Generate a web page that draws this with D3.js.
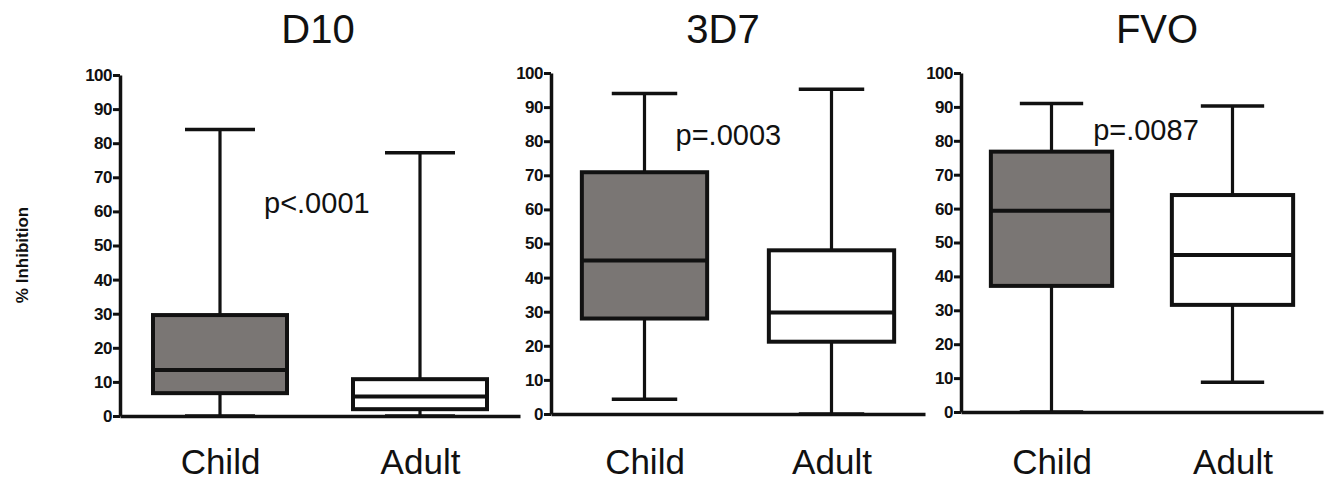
<!DOCTYPE html>
<html>
<head>
<meta charset="utf-8">
<script src="https://cdn.jsdelivr.net/npm/d3@7"></script>
<style>
  body { margin: 0; background: #fff; }
  svg { display: block; }
</style>
</head>
<body>
<div id="chart"></div>
<script>
// data
const panelNames = ["D10", "3D7", "FVO"];
const groups = ["Child", "Adult"];
const yTicks = [0, 10, 20, 30, 40, 50, 60, 70, 80, 90, 100];

// one [child, adult] pair per panel
const whiskerLow = [[0, 0], [4.3, 0], [0, 8.8]];
const q1 = [[6.7, 2], [28, 21.2], [37.2, 31.6]];
const median = [[13.5, 5.7], [45, 29.8], [59.4, 46.3]];
const q3 = [[29.6, 10.8], [70.9, 48], [76.8, 64]];
const whiskerHigh = [[84, 77.2], [94, 95.2], [91, 90.3]];
const pLabels = ["p<.0001", "p=.0003", "p=.0087"];
const pLabelY = [59.5, 78.9, 80.2]; // value at which the p label sits

// layout (pixels)
const width = 1324, height = 482;
const layout = [
  { x0: 120, x1: 520, yBottom: 416, yTop: 75, titleX: 318, pDx: 0.22 },
  { x0: 551, x1: 925, yBottom: 414, yTop: 73, titleX: 723, pDx: 0.166 },
  { x0: 961, x1: 1323, yBottom: 412, yTop: 73, titleX: 1157, pDx: 0.23 }
];
const fills = ["#7a7674", "#ffffff"];
const ink = "#111";
const font = "'Liberation Sans', Arial, sans-serif";

const svg = d3.select("#chart").append("svg")
  .attr("width", width)
  .attr("height", height);

// shared y axis title
svg.append("text")
  .attr("transform", "translate(28, 255) rotate(-90)")
  .attr("text-anchor", "middle")
  .style("font-family", font)
  .style("font-weight", "bold")
  .style("font-size", "17px")
  .style("fill", ink)
  .text("% Inhibition");

panelNames.forEach((name, p) => {
  const L = layout[p];
  const x = d3.scalePoint().domain(groups).range([L.x0, L.x1]).padding(0.5);
  const y = d3.scaleLinear().domain([0, 100]).range([L.yBottom, L.yTop]);
  const step = x.step();
  const boxW = step * 0.67;
  const capW = step * 0.35;

  const g = svg.append("g");

  // title
  g.append("text")
    .attr("x", L.titleX)
    .attr("y", 43)
    .attr("text-anchor", "middle")
    .style("font-family", font)
    .style("font-size", "40px")
    .style("fill", ink)
    .text(name);

  // boxes
  const stats = groups.map((grp, i) => ({
    grp, i,
    lo: whiskerLow[p][i], q1: q1[p][i], med: median[p][i],
    q3: q3[p][i], hi: whiskerHigh[p][i]
  }));

  const box = g.selectAll("g.box")
    .data(stats)
    .join("g")
    .attr("class", "box");

  // whisker stems
  box.append("line")
    .attr("x1", d => x(d.grp)).attr("x2", d => x(d.grp))
    .attr("y1", d => y(d.hi)).attr("y2", d => y(d.lo))
    .attr("stroke", ink).attr("stroke-width", 3.2);

  // caps
  box.selectAll("line.cap")
    .data(d => [d.lo, d.hi].map(v => ({ v, grp: d.grp })))
    .join("line")
    .attr("class", "cap")
    .attr("x1", d => x(d.grp) - capW / 2).attr("x2", d => x(d.grp) + capW / 2)
    .attr("y1", d => y(d.v)).attr("y2", d => y(d.v))
    .attr("stroke", ink).attr("stroke-width", 3.5);

  // IQR rect
  box.append("rect")
    .attr("x", d => x(d.grp) - boxW / 2)
    .attr("width", boxW)
    .attr("y", d => y(d.q3))
    .attr("height", d => y(d.q1) - y(d.q3))
    .attr("fill", d => fills[d.i])
    .attr("stroke", ink).attr("stroke-width", 4);

  // median
  box.append("line")
    .attr("x1", d => x(d.grp) - boxW / 2).attr("x2", d => x(d.grp) + boxW / 2)
    .attr("y1", d => y(d.med)).attr("y2", d => y(d.med))
    .attr("stroke", ink).attr("stroke-width", 4);

  // y axis
  const yAxis = g.append("g")
    .attr("transform", `translate(${L.x0},0)`)
    .call(d3.axisLeft(y).tickValues(yTicks).tickSize(7).tickSizeOuter(0).tickPadding(1));
  yAxis.select(".domain").attr("stroke", ink).attr("stroke-width", 3.5);
  yAxis.selectAll(".tick line").attr("stroke", ink).attr("stroke-width", 3);
  yAxis.selectAll(".tick text")
    .style("font-family", font)
    .style("font-weight", "bold")
    .style("font-size", "17px")
    .style("letter-spacing", "-0.5px")
    .style("fill", ink);

  // x axis
  const fs = 35;
  const xAxis = g.append("g")
    .attr("transform", `translate(0,${L.yBottom})`)
    .call(d3.axisBottom(x).tickSize(0).tickSizeOuter(0).tickPadding(474 - L.yBottom - 0.71 * fs));
  xAxis.select(".domain").attr("stroke", ink).attr("stroke-width", 3.5);
  xAxis.selectAll(".tick text")
    .style("font-family", font)
    .style("font-size", fs + "px")
    .style("fill", ink);

  // p value
  g.append("text")
    .attr("x", x(groups[0]) + L.pDx * step)
    .attr("y", y(pLabelY[p]))
    .style("font-family", font)
    .style("font-size", "29px")
    .style("fill", ink)
    .text(pLabels[p]);
});
</script>
</body>
</html>
